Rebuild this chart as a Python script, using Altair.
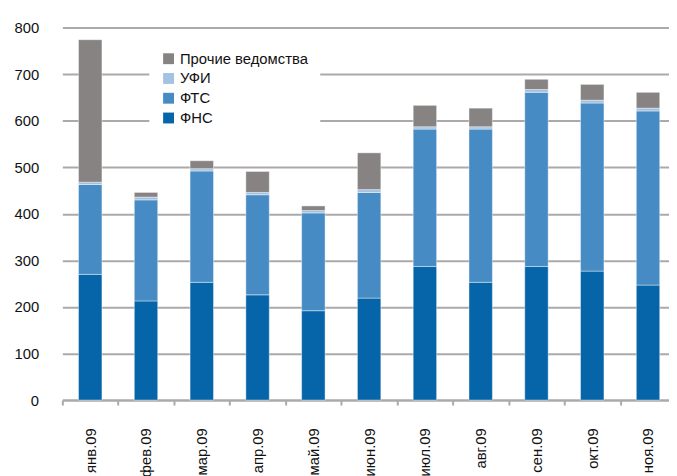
import altair as alt
import pandas as pd

months = ["янв.09", "фев.09", "мар.09", "апр.09", "май.09", "июн.09",
          "июл.09", "авг.09", "сен.09", "окт.09", "ноя.09"]
fns = [270, 213, 253, 226, 192, 219, 287, 253, 287, 277, 247]
fts = [193, 217, 239, 215, 210, 227, 295, 329, 374, 361, 374]
ufi = [5, 6, 5, 5, 5, 6, 5, 5, 6, 6, 6]
other = [306, 10, 17, 45, 10, 79, 46, 40, 22, 34, 34]

series = ["Прочие ведомства", "УФИ", "ФТС", "ФНС"]
colors = ["#878383", "#A3C1E2", "#468BC4", "#0565A8"]
stack_order = {"ФНС": 0, "ФТС": 1, "УФИ": 2, "Прочие ведомства": 3}

rows = []
for i, m in enumerate(months):
    for name, vals in [("ФНС", fns), ("ФТС", fts), ("УФИ", ufi), ("Прочие ведомства", other)]:
        rows.append({"month": m, "series": name, "value": vals[i], "ord": stack_order[name]})
df = pd.DataFrame(rows)

FONT = "Liberation Sans"

chart = alt.Chart(df).mark_bar(
    width=alt.RelativeBandSize(0.42), stroke="#ffffff", strokeWidth=0.6, strokeOpacity=0.7
).encode(
    x=alt.X("month:N", sort=months, title=None,
            scale=alt.Scale(paddingInner=0, paddingOuter=0, range=[0, 621]),
            axis=alt.Axis(labelAngle=270, labelAlign="right", labelBaseline="middle",
                          labelPadding=23, tickSize=5, tickWidth=2, tickColor="#ABA9A9",
                          domainColor="#ABA9A9", domainWidth=2, tickBand="extent",
                          labelFont=FONT, labelFontSize=15, labelColor="#111111",
                          grid=False)),
    y=alt.Y("value:Q", stack="zero", title=None,
            scale=alt.Scale(domain=[0, 800], nice=False),
            axis=alt.Axis(values=list(range(0, 801, 100)), domain=False, ticks=False,
                          labelPadding=24, gridColor="#ABA9A9", gridWidth=2,
                          labelFont=FONT, labelFontSize=15, labelColor="#111111")),
    color=alt.Color("series:N", scale=alt.Scale(domain=series, range=colors),
                    legend=alt.Legend(title=None, orient="none", legendX=88, legendY=12,
                                      symbolType="square", symbolSize=121,
                                      symbolStrokeWidth=0, labelFont=FONT,
                                      labelFontSize=15, labelColor="#111111",
                                      fillColor="white", padding=12, rowPadding=4,
                                      labelOffset=4)),
    order=alt.Order("ord:Q", sort="ascending"),
).properties(
    width=614, height=377, autosize="none",
    padding={"left": 55, "top": 17, "right": 0, "bottom": 74},
).configure_view(stroke=None)

chart.save("out.html", embed_options={"renderer": "svg", "actions": False})
